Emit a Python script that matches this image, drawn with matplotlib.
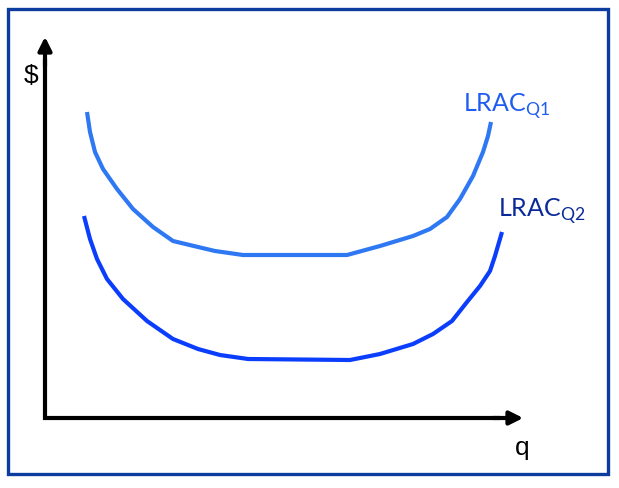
import matplotlib
matplotlib.use('Agg')
import matplotlib.pyplot as plt
from matplotlib.patches import Rectangle

plt.rcParams['mathtext.fontset'] = 'custom'
plt.rcParams['mathtext.rm'] = 'Lato'

# curve data (picture coordinates, y grows downward)
q1_x = [87, 90, 95, 103, 117, 133, 153, 173, 198, 215, 243, 347, 380, 413, 430, 447, 460, 473, 483, 488, 491]
q1_y = [113, 133, 153, 170, 190, 210, 228, 242, 248, 252, 256, 256, 247, 237, 230, 218, 200, 177, 153, 137, 123]
q2_x = [84, 90, 97, 107, 123, 147, 173, 198, 220, 248, 350, 380, 413, 433, 452, 467, 480, 490, 495, 502]
q2_y = [217, 240, 260, 280, 300, 322, 340, 350, 356, 360, 361, 355, 345, 335, 322, 303, 287, 272, 257, 233]

labels = [r'LRAC$_{\mathregular{Q1}}$', r'LRAC$_{\mathregular{Q2}}$']
line_colors = ['#2f78f4', '#0b3dfc']
label_colors = ['#1f5cf0', '#0a2a9a']

fig = plt.figure(figsize=(6.19, 4.89), dpi=100)
ax = fig.add_axes([0, 0, 1, 1])
ax.set_xlim(0, 619)
ax.set_ylim(489, 0)
ax.axis('off')

# frame
ax.add_patch(Rectangle((8, 10), 600, 465, fill=False, ec='#0b3c9e', lw=2.4))

# axes arrows
ax.plot([45, 45], [421, 60], color='black', lw=3, solid_capstyle='butt')
ax.plot([43, 500], [419, 419], color='black', lw=3, solid_capstyle='butt')
ax.annotate('', xy=(45, 35), xytext=(45, 70),
            arrowprops=dict(arrowstyle='-|>', color='black', lw=3, mutation_scale=20))
ax.annotate('', xy=(526, 419), xytext=(490, 419),
            arrowprops=dict(arrowstyle='-|>', color='black', lw=3, mutation_scale=20))
ax.text(31, 76, '$', fontsize=19, family='Liberation Sans', ha='center', va='center')
ax.text(522, 448, 'q', fontsize=19, family='Liberation Sans', ha='center', va='center')

ax.plot(q1_x, q1_y, color=line_colors[0], lw=3, solid_capstyle='butt', solid_joinstyle='round')
ax.plot(q2_x, q2_y, color=line_colors[1], lw=3, solid_capstyle='butt', solid_joinstyle='round')

ax.text(463, 112, labels[0], fontsize=18, family='Lato', color=label_colors[0], va='baseline')
ax.text(498, 217, labels[1], fontsize=18, family='Lato', color=label_colors[1], va='baseline')

fig.savefig('out.png', dpi=100)
